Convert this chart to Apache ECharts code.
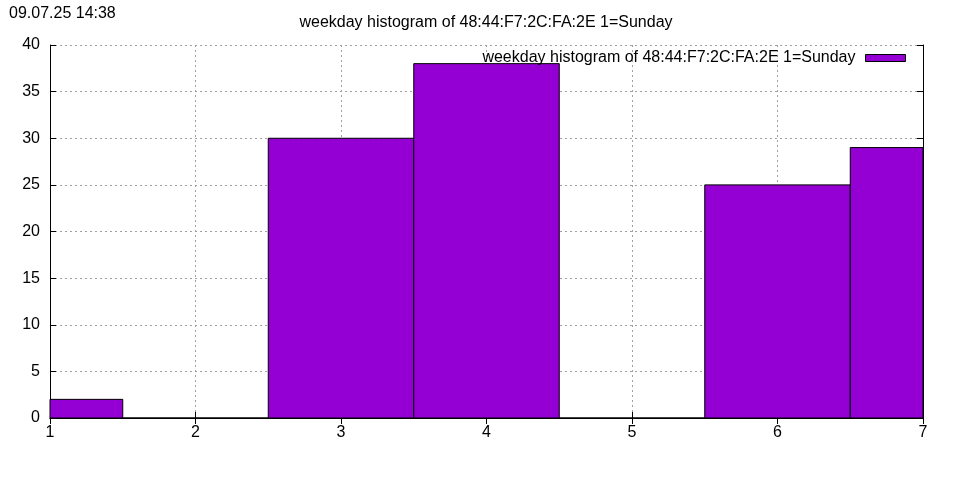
<!DOCTYPE html>
<html><head><meta charset="utf-8">
<script src="https://cdn.jsdelivr.net/npm/echarts@6/dist/echarts.min.js"></script>
<style>html,body{margin:0;padding:0;background:#fff}#c{width:960px;height:480px}</style>
</head><body><div id="c"></div>
<script>
const weekdays = [1, 2, 3, 4, 5, 6, 7];
const counts = [2, 0, 30, 38, 0, 25, 29];
const seriesName = 'weekday histogram of 48:44:F7:2C:FA:2E 1=Sunday';
const timestamp = '09.07.25 14:38';

const font = 'Liberation Sans, Arial, sans-serif';
const chart = echarts.init(document.getElementById('c'));
const data = weekdays.map((d, i) => [d, counts[i]]);
const grid = {left: 50, right: 37, top: 45, bottom: 62};
const gridLine = {show: true, lineStyle: {color: '#a0a0a0', type: [2, 3], width: 1}};
chart.setOption({
  animation: false,
  backgroundColor: '#fff',
  title: [
    {text: seriesName, left: 481, textAlign: 'center', top: 10,
     textStyle: {fontFamily: font, fontSize: 16, fontWeight: 'normal', color: '#000'}},
    {text: timestamp, left: 4, top: 1,
     textStyle: {fontFamily: font, fontSize: 16, fontWeight: 'normal', color: '#000'}}
  ],
  legend: {
    right: 49, top: 45, align: 'right', itemWidth: 40, itemHeight: 7, itemGap: 11,
    textStyle: {fontFamily: font, fontSize: 16, color: '#000', padding: [0, 5, 0, 0]},
    data: [{name: seriesName, icon: 'rect', itemStyle: {color: '#9400d3', borderColor: '#000', borderWidth: 1}}]
  },
  grid: grid,
  xAxis: [
    {type: 'value', min: 1, max: 7, interval: 1, position: 'bottom',
     axisLine: {show: true, lineStyle: {color: '#000', width: 1}},
     axisTick: {show: true, inside: true, length: 6, lineStyle: {color: '#000'}},
     axisLabel: {fontFamily: font, fontSize: 16, color: '#000', margin: 7},
     splitLine: gridLine},
    {type: 'value', min: 1, max: 7, interval: 1, position: 'top',
     axisLine: {show: true, lineStyle: {color: '#000', width: 1}},
     axisTick: {show: true, inside: true, length: 6, lineStyle: {color: '#000'}},
     axisLabel: {show: false}, splitLine: {show: false}}
  ],
  yAxis: [
    {type: 'value', min: 0, max: 40, interval: 5, position: 'left',
     axisLine: {show: true, lineStyle: {color: '#000', width: 1}},
     axisTick: {show: true, inside: true, length: 6, lineStyle: {color: '#000'}},
     axisLabel: {fontFamily: font, fontSize: 16, color: '#000', margin: 10},
     splitLine: gridLine},
    {type: 'value', min: 0, max: 40, interval: 5, position: 'right',
     axisLine: {show: true, lineStyle: {color: '#000', width: 1}},
     axisTick: {show: true, inside: true, length: 6, lineStyle: {color: '#000'}},
     axisLabel: {show: false}, splitLine: {show: false}}
  ],
  series: [{
    type: 'custom', name: seriesName, xAxisIndex: 0, yAxisIndex: 0,
    itemStyle: {color: '#9400d3'},
    data: data,
    renderItem: function (params, api) {
      const x = api.value(0), y = api.value(1);
      const p0 = api.coord([x - 0.5, 0]);
      const p1 = api.coord([x + 0.5, y]);
      const rect = echarts.graphic.clipRectByRect(
        {x: p0[0], y: p1[1], width: p1[0] - p0[0], height: p0[1] - p1[1]},
        {x: params.coordSys.x, y: params.coordSys.y, width: params.coordSys.width, height: params.coordSys.height});
      if (!rect) return;
      return {type: 'rect', shape: rect, z2: 5,
        style: {fill: '#9400d3', stroke: '#000', lineWidth: 1}};
    }
  }]
});
</script></body></html>
